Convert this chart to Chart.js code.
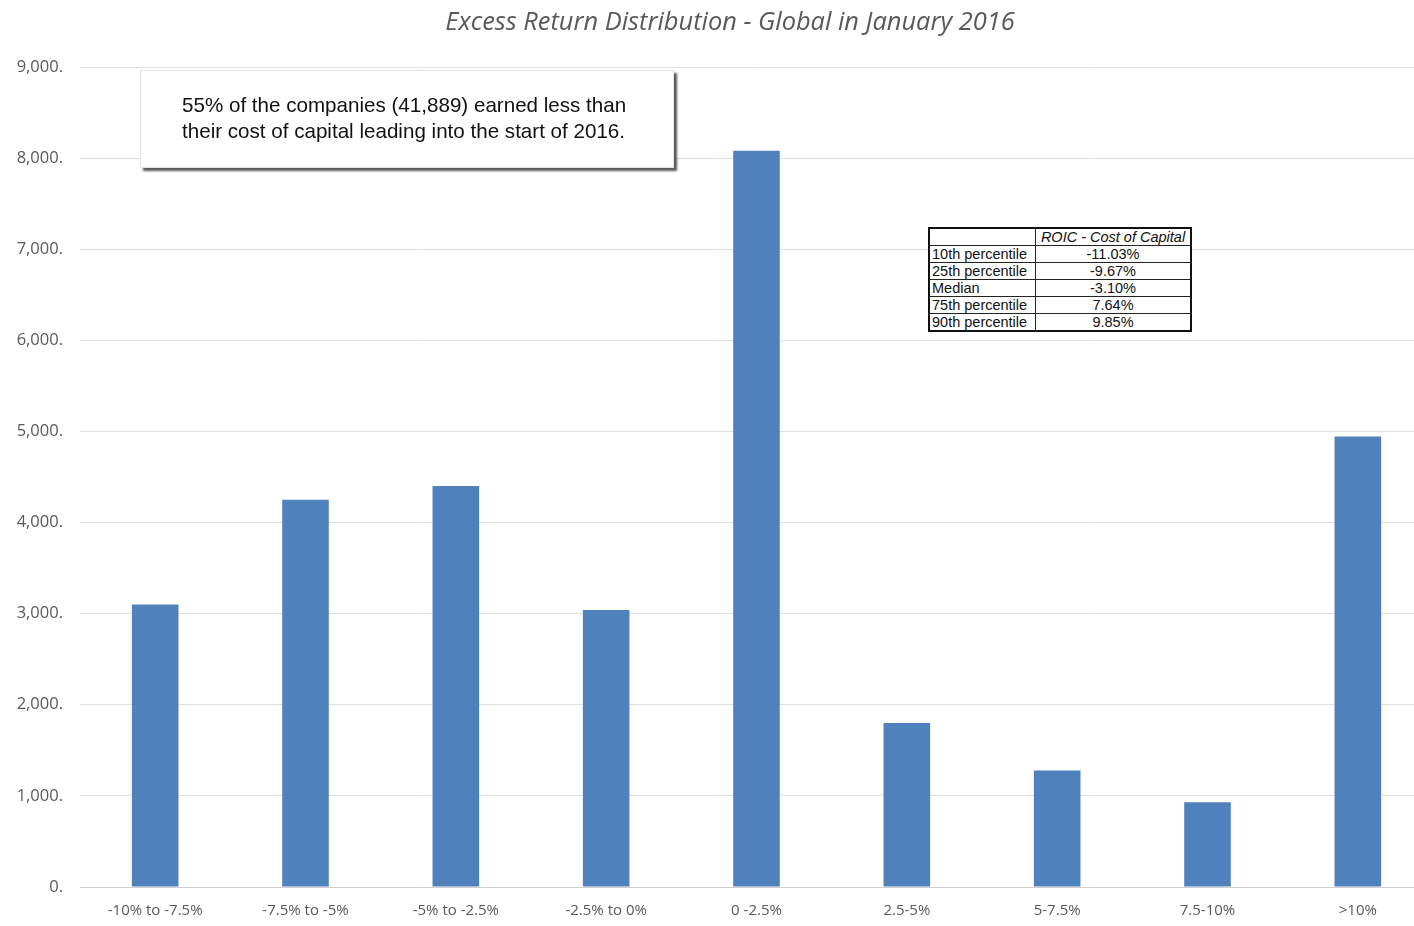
<!DOCTYPE html>
<html>
<head>
<meta charset="utf-8">
<script src="https://cdn.jsdelivr.net/npm/chart.js@4"></script>
<style>
    body { margin: 0; background: #fff; overflow: hidden; }
    #wrap { position: relative; width: 1414px; height: 926px; overflow: hidden; }
    #dist_chart { display: block; }
    #title {
        position: absolute; left: 430px; top: 3px; width: 600px; text-align: center;
        font-family: "Open Sans", sans-serif; font-style: italic; font-size: 25.4px; color: #595959;
    }
    #note {
        position: absolute; left: 140px; top: 70px; width: 534px; height: 98px;
        background: #fff; border: 1px solid #e4e4e4;
        box-shadow: 3px 3px 2px #5a5a5a;
        font-family: "Liberation Sans", Arial, sans-serif; font-size: 20.6px; line-height: 26px;
        color: #111; box-sizing: border-box; padding: 21px 0 0 41px;
    }
    #stats {
        position: absolute; left: 928px; top: 227px;
        border-collapse: collapse; border: 2px solid #111;
        font-family: "Liberation Sans", Arial, sans-serif; font-size: 14.5px; color: #111;
        background: #fff;
    }
    #stats td, #stats th { border: 1px solid #222; padding: 0 2px; height: 16px; line-height: 16px; }
    #stats td.v { text-align: center; width: 150px; }
    #stats td.k { width: 101px; }
    #stats th { font-weight: normal; font-style: italic; }
</style>
</head>
<body>
<div id="wrap">
    <canvas id="dist_chart" width="1433" height="926"></canvas>
    <div id="title">Excess Return Distribution - Global in January 2016</div>
    <div id="note">55% of the companies (41,889) earned less than<br>their cost of capital leading into the start of 2016.</div>
    <table id="stats"></table>
</div>
<script>
// bucket labels and company counts
const buckets = ["-10% to -7.5%", "-7.5% to -5%", "-5% to -2.5%", "-2.5% to 0%", "0 -2.5%", "2.5-5%", "5-7.5%", "7.5-10%", ">10%"];
const counts = [3100, 4250, 4400, 3040, 8080, 1800, 1280, 930, 4945];

// percentile table
const statNames = ["10th percentile", "25th percentile", "Median", "75th percentile", "90th percentile"];
const statValues = ["-11.03%", "-9.67%", "-3.10%", "7.64%", "9.85%"];

buildTable = () => {
    const table = document.getElementById("stats");
    const head = document.createElement("tr");
    head.innerHTML = "<td class='k'></td><th>ROIC - Cost of Capital</th>";
    table.appendChild(head);
    statNames.map((name, i) => {
        const row = document.createElement("tr");
        const nameCell = document.createElement("td");
        nameCell.className = "k";
        nameCell.textContent = name;
        row.appendChild(nameCell);
        const valueCell = document.createElement("td");
        valueCell.className = "v";
        valueCell.textContent = statValues[i];
        row.appendChild(valueCell);
        table.appendChild(row);
    });
}
buildTable();

const grey = "#595959";

new Chart("dist_chart", {
    type: "bar",
    data: {
        labels: buckets,
        datasets: [{
            data: counts,
            backgroundColor: "#4f81bd",
            barPercentage: 0.31,
            categoryPercentage: 1
        }]
    },
    options: {
        responsive: false,
        animation: false,
        layout: { padding: { left: 0, right: 0, top: 67, bottom: -9 } },
        plugins: {
            legend: { display: false },
            tooltip: { enabled: false }
        },
        scales: {
            x: {
                grid: { display: false, drawTicks: false },
                border: { color: "#d0d0d0" },
                ticks: { color: grey, font: { family: "Open Sans", size: 15 }, padding: 15, maxRotation: 0 }
            },
            y: {
                min: 0, max: 9000,
                afterFit: (axis) => { axis.width = 80; },
                grid: { color: "#e0e0e0", drawTicks: false },
                border: { display: false },
                ticks: {
                    stepSize: 1000, padding: 17, color: grey,
                    font: { family: "Open Sans", size: 16.5 },
                    callback: (v) => v.toLocaleString("en-US") + "."
                }
            }
        }
    }
});
</script>
</body>
</html>
